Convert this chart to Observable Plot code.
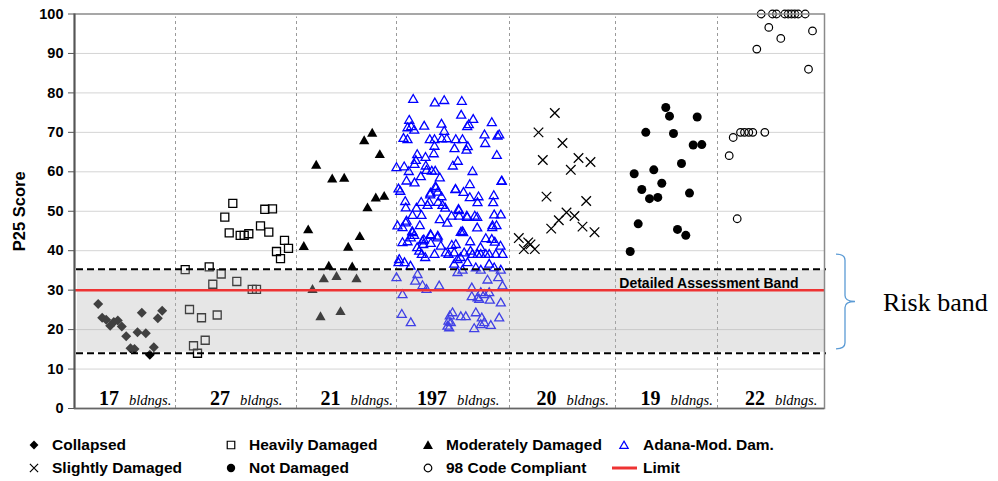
<!DOCTYPE html>
<html>
<head>
<meta charset="utf-8">
<script src="https://cdn.jsdelivr.net/npm/d3@7"></script>
<script src="https://cdn.jsdelivr.net/npm/@observablehq/plot@0.6"></script>
<style>
  html, body { margin: 0; padding: 0; background: #fff; }
  #chart { width: 998px; height: 481px; position: relative; font-family: "Liberation Sans", Arial, sans-serif; }
  #legend { position: relative; width: 998px; height: 56px; }
  .li { position: absolute; height: 20px; display: flex; align-items: center; }
  .li span { font-size: 15.5px; font-weight: bold; color: #000; white-space: nowrap; }
</style>
</head>
<body>
<div id="chart"></div>
<script>
// ---------- data (x: position across the chart width, 0–750; y: P25 score) ----------
const groups = ["Collapsed", "Heavily Damaged", "Moderately Damaged", "Adana-Mod. Dam.", "Slightly Damaged", "Not Damaged", "98 Code Compliant"];
const buildingCounts = [17, 27, 21, 197, 20, 19, 22];
const groupBounds = [0, 101, 222, 322, 435, 541, 643, 750];
const yTicks = [0, 10, 20, 30, 40, 50, 60, 70, 80, 90, 100];
const limitScore = 30;
const assessmentBand = [14, 35.3];
const riskBrace = [15, 39];

const collapsed = [[23.7,26.5],[27.7,23.0],[31.7,22.5],[35.7,21.0],[39.3,21.9],[43.3,22.3],[47.3,20.8],[51.7,18.3],[56,15.3],[60,15.1],[63,19.3],[67.3,24.3],[71.3,19.1],[75.3,13.6],[79.3,15.5],[83.3,22.9],[87.7,24.8]];

const heavilyDamaged = [[158.3,52.0],[150.3,48.5],[154.7,44.5],[165.7,43.9],[169.7,43.9],[174.3,44.3],[186,46.3],[194.3,44.7],[190.3,50.5],[198,50.6],[210,42.6],[202,39.8],[214,40.6],[206,38.0],[110.7,35.2],[134.7,35.9],[146.7,34.1],[138.3,31.5],[162.3,32.2],[177.7,30.2],[182,30.2],[115,25.1],[127,23.0],[142.7,23.7],[119,15.9],[130.7,17.3],[123,14.0]];

const moderatelyDamaged = [[241.7,61.9],[257.7,58.4],[269.7,58.6],[289.7,68.1],[297.7,70.0],[305.3,64.6],[293,51.1],[301.3,53.6],[309.7,54.0],[233.7,45.5],[285.3,43.8],[229.3,41.3],[273.7,41.1],[254.3,36.3],[277.7,36.1],[262,33.7],[249.3,33.1],[282,33.1],[238,30.4],[246,23.5],[266,24.8]];

const adanaModDam = [
  [338.7,78.6],[360.3,77.7],[369.7,78.3],[387.3,78.1],[386.7,74.6],[334.7,73.3],[398.7,73.5],[417.3,72.7],[367,72.3],[394.3,72.2],
  [392.7,71.7],[333,71.4],[336.7,71.7],[339.7,70.8],[349.7,71.8],[369.7,70.5],[410,69.6],[424.7,69.6],[423,69.3],[329,68.7],
  [333,68.4],[355.3,68.4],[360,68.4],[367.3,68.6],[372.3,68.6],[381.3,68.4],[388,68.4],[410.7,67.4],[360,66.7],[380,66.1],
  [393.3,66.6],[392,65.7],[342.7,64.6],[359.3,64.8],[351,63.9],[422.3,64.4],[341.3,63.1],[383.3,62.9],[378.3,61.7],[322,61.3],
  [329.7,61.5],[340,62.1],[351.3,61.7],[334.3,60.3],[352,60.6],[357.3,60.4],[360.7,60.4],[398,60.3],[346.3,59.0],[365.3,58.7],
  [332,57.9],[340,57.4],[427.3,57.9],[361.3,56.1],[395.3,57.0],[324,55.9],[325.7,55.3],[381,55.8],[389,55.0],[363.3,55.1],
  [355.7,54.4],[367,53.9],[404,53.9],[419.3,54.2],[330.7,52.7],[346.7,52.5],[354.7,52.5],[363.7,52.5],[403,52.4],[418.7,52.4],
  [331.3,51.1],[353,51.7],[368,51.7],[370.7,51.0],[342,51.0],[384,50.7],
  [338,49.2],[347,49.2],[377,49.0],[384.7,49.0],[392.3,49.0],[400.3,49.0],[419.7,49.3],[426.3,49.3],[323,46.5],[331.3,47.3],
  [328,46.1],[338,44.8],[339.7,44.1],[336.3,43.5],[356.3,44.1],[363,43.5],[386.3,44.9],[388.7,44.8],[418,46.6],[422,46.6],
  [411.3,43.3],[417.3,43.1],[420.3,42.4],[395.7,42.5],[328,42.3],[333,42.5],[348,42.7],[348.7,41.8],[356.3,42.1],[366.3,41.4],
  [377.3,41.6],[381.3,41.8],[342.7,41.0],[344.7,40.1],[347.3,39.3],[350.7,38.5],[371.3,39.7],[379.7,39.7],[389.7,39.7],[398,39.3],
  [403,39.3],[406.3,39.3],[411.3,39.3],[414.7,39.3],[421.3,39.3],[428,39.3],[383,38.0],[393,37.2],[379.7,36.8],[324.7,38.0],
  [324,37.2],[401.3,35.9],[406.3,35.3],[414.7,36.8],[419.7,35.9],[426.3,35.3],[383,34.7],[388,35.3],[322,33.4],[340.7,32.5],
  [343,34.2],[348,31.4],[352,30.4],[364.7,31.3],[413,32.8],[423.7,33.4],[428,31.3],[397.3,30.8],[406.3,29.6],[409.7,29.1],
  [414.7,29.6],[328,29.1],[397.3,28.6],[403,28.3],[415.3,27.7],[404.7,27.9],[426.3,27.0],[327.3,24.1],[336.3,22.0],[378,24.5],
  [375.3,23.7],[374,22.4],[373,21.1],[376.3,22.0],[386.3,23.5],[391.3,23.5],[401.3,24.5],[407.3,23.2],[409.7,22.0],[416.3,21.3],
  [399.7,20.5],[424.7,23.2],[374.7,20.7],[406.3,21.5],
  [337.7,45.1],[356,44.3],[365.3,48.1],[372.7,47.2],[384.3,50.4],[387.7,45.1],[392.7,48.7],[402.7,48.7],[402.7,46.0],[417.7,46.1],
  [345.3,46.6],[349.3,43.0],[363.3,43.9],[332,47.7],[356,54.8],[361,56.5],[381,55.7],[395.3,53.7],[427,57.8],
  [360,39.3],[374,39.3],[396,40.1],[406,41.0],[386,38.5],[330,37.2],[336,36.3],[426,41.4]
];

const slightlyDamaged = [[480.3,74.9],[464,70.0],[488,67.3],[468.3,63.0],[504,63.5],[516,62.5],[496.3,60.5],[472,53.7],[511.7,52.6],[492,49.7],[500,48.8],[484.3,47.7],[476.7,45.6],[508,46.1],[520,44.7],[444.3,43.2],[449.3,40.4],[453.7,42.1],[456,41.6],[460.3,40.4]];

const notDamaged = [[591.3,76.3],[595,74.1],[622.7,73.9],[571.3,70.0],[599,69.7],[618.7,66.8],[627.3,66.9],[607,62.1],[559.7,59.5],[579.3,60.5],[587.3,57.1],[567.3,55.5],[615,54.6],[575,53.2],[583.3,53.5],[563.7,46.8],[603,45.4],[611.3,43.9],[555.7,39.8]];

const codeCompliant98 = [[686.7,100],[698,100],[702,100],[710.3,100],[713.7,100],[717,100],[720.3,100],[723.7,100],[730.7,100],[694.3,96.6],[738,95.7],[706.3,93.8],[682.3,91.1],[734,86.0],[658.7,68.7],[666,70.0],[670,70.0],[674.3,70.0],[678.3,70.0],[690.3,70.0],[654.7,64.1],[662.7,48.1]];

// ---------- derived tables ----------
const groupLabels = groups.map((g, i) => ({
  group: g,
  count: buildingCounts[i],
  center: (groupBounds[i] + groupBounds[i + 1]) / 2
}));
const dividers = groupBounds.slice(1, -1);
const xDomain = [groupBounds[0], groupBounds[groupBounds.length - 1]];

const SANS = "'Liberation Sans', Arial, sans-serif";
const SERIF = "'Liberation Serif', 'Times New Roman', serif";

const series = [
  {data: collapsed, symbol: "diamond2", r: 4.5, fill: "black", stroke: "none"},
  {data: heavilyDamaged, symbol: "square2", r: 5.1, fill: "none", stroke: "black", strokeWidth: 1.3},
  {data: moderatelyDamaged, symbol: "triangle", r: 3.8, fill: "black", stroke: "none", dy: 1.4},
  {data: adanaModDam, symbol: "triangle2", r: 4.3, fill: "none", stroke: "#0000ff", strokeWidth: 1.3, dy: 1.3},
  {data: slightlyDamaged, symbol: "times", r: 4.4, fill: "none", stroke: "black", strokeWidth: 1.3},
  {data: notDamaged, symbol: "circle", r: 4.5, fill: "black", stroke: "none"},
  {data: codeCompliant98, symbol: "circle", r: 3.8, fill: "none", stroke: "black", strokeWidth: 1.2}
];

const dotMarks = series.map(s => Plot.dot(s.data, {
  x: d => d[0], y: d => d[1], symbol: s.symbol, r: s.r,
  fill: s.fill, stroke: s.stroke, strokeWidth: s.strokeWidth || 1, dy: s.dy || 0
}));

const braceMark = (index, scales, values, dim) => {
  const g = d3.create("svg:g");
  const yT = scales.y(riskBrace[1]), yB = scales.y(riskBrace[0]), yM = (yT + yB) / 2;
  const xr = dim.width - dim.marginRight;
  const x0 = xr + 12, x1 = xr + 21, x2 = xr + 31, c = 6;
  const p = d3.path();
  p.moveTo(x0, yT);
  p.quadraticCurveTo(x1, yT, x1, yT + c);
  p.lineTo(x1, yM - c);
  p.quadraticCurveTo(x1, yM, x2, yM);
  p.quadraticCurveTo(x1, yM, x1, yM + c);
  p.lineTo(x1, yB - c);
  p.quadraticCurveTo(x1, yB, x0, yB);
  g.append("path").attr("d", p.toString()).attr("fill", "none").attr("stroke", "#5b9bd5").attr("stroke-width", 1.3);
  g.append("text").attr("x", xr + 59).attr("y", yM).attr("dy", "0.35em").attr("text-anchor", "start")
    .attr("font-family", SERIF).attr("font-size", 26).attr("fill", "black").text("Risk band");
  return g.node();
};

const plot = Plot.plot({
  width: 998,
  height: 425,
  marginLeft: 74,
  marginRight: 174,
  marginTop: 13.5,
  marginBottom: 17,
  style: {fontFamily: SANS, background: "white", overflow: "visible"},
  x: {domain: xDomain, axis: null},
  y: {domain: [0, 100], axis: null},
  marks: [
    Plot.ruleY(yTicks.slice(1, -1), {stroke: "#d4d4d4", strokeWidth: 1}),
    Plot.ruleX(dividers, {y1: 0, y2: 100, stroke: "#9a9a9a", strokeWidth: 1, strokeDasharray: "3,3", insetBottom: -3}),
    ...dotMarks,
    Plot.rect([assessmentBand], {x1: xDomain[0], x2: xDomain[1], y1: d => d[0], y2: d => d[1], fill: "#b7b7b7", fillOpacity: 0.35, insetLeft: 3, insetTop: 1, insetBottom: 1}),
    Plot.ruleY(assessmentBand, {stroke: "black", strokeWidth: 2, strokeDasharray: "7,4", insetLeft: 2, insetRight: -2}),
    Plot.ruleY([limitScore], {stroke: "#ee3333", strokeWidth: 2.5}),
    Plot.text(["Detailed Assessment Band"], {x: xDomain[1], y: limitScore, text: d => d, textAnchor: "end", lineAnchor: "bottom", dx: -26, dy: -2, fontSize: 14, fontWeight: "bold", fontFamily: SANS, fill: "black"}),
    Plot.text(groupLabels, {x: "center", y: 0, text: d => String(d.count), textAnchor: "end", lineAnchor: "bottom", dx: -6, dy: -4, fontSize: 20, fontWeight: "bold", fontFamily: SERIF, fill: "black"}),
    Plot.text(groupLabels, {x: "center", y: 0, text: () => "bldngs.", textAnchor: "start", lineAnchor: "bottom", dx: 4, dy: -4, fontSize: 14.5, fontStyle: "italic", fontFamily: SERIF, fill: "black"}),
    Plot.frame({stroke: "#8a8a8a", strokeWidth: 1.5}),
    Plot.ruleX([xDomain[0]], {y1: 0, y2: 100, stroke: "#555", strokeWidth: 2}),
    Plot.ruleY([0], {stroke: "#666", strokeWidth: 1.5}),
    Plot.axisY({ticks: yTicks, tickSize: 6, tickPadding: 5, stroke: "#555", fontSize: 14.5, fontWeight: "bold", fill: "black", label: null}),
    Plot.text(["P25 Score"], {frameAnchor: "left", textAnchor: "middle", rotate: -90, dx: -55, text: d => d, fontSize: 16.5, fontWeight: "bold", fontFamily: SANS, fill: "black"}),
    braceMark
  ]
});

const chart = document.getElementById("chart");
chart.appendChild(plot);

// ---------- legend (HTML below the SVG) ----------
const legendItems = [
  {label: groups[0], row: 0, col: 0, symbol: "diamond2", size: 4.0, fill: "black"},
  {label: groups[1], row: 0, col: 1, symbol: "square2", size: 4.8, stroke: "black"},
  {label: groups[2], row: 0, col: 2, symbol: "triangle", size: 3.7, fill: "black"},
  {label: groups[3], row: 0, col: 3, symbol: "triangle2", size: 4.0, stroke: "#0000ff"},
  {label: groups[4], row: 1, col: 0, symbol: "times", size: 3.8, stroke: "black"},
  {label: groups[5], row: 1, col: 1, symbol: "circle", size: 4.2, fill: "black"},
  {label: groups[6], row: 1, col: 2, symbol: "circle", size: 3.8, stroke: "black"},
  {label: "Limit", row: 1, col: 3, line: "#ee3333"}
];
const symbolMap = {diamond2: d3.symbolDiamond2, square2: d3.symbolSquare2, triangle: d3.symbolTriangle, triangle2: d3.symbolTriangle2, times: d3.symbolTimes, circle: d3.symbolCircle};
const colText = [52, 249, 446, 643];
const colSym = [34, 231, 428, 624];
const rowMid = [20, 43];

const legend = d3.select(chart).append("div").attr("id", "legend");
legendItems.forEach(it => {
  const left = it.line ? 612 : colSym[it.col] - 10;
  const w = colText[it.col] - left;
  const item = legend.append("div").attr("class", "li")
    .style("left", left + "px").style("top", (rowMid[it.row] - 10) + "px");
  const svg = item.append("svg").attr("width", w).attr("height", 20).style("display", "block");
  if (it.line) {
    svg.append("line").attr("x1", 0).attr("x2", 25).attr("y1", 10).attr("y2", 10)
      .attr("stroke", it.line).attr("stroke-width", 3);
  } else {
    const sym = d3.symbol(symbolMap[it.symbol], Math.PI * it.size * it.size);
    svg.append("path").attr("d", sym()).attr("transform", `translate(10,${it.symbol.startsWith("triangle") ? 11 : 10})`)
      .attr("fill", it.fill || "none").attr("stroke", it.stroke || "none").attr("stroke-width", 1.2);
  }
  item.append("span").text(it.label);
});
</script>
</body>
</html>
